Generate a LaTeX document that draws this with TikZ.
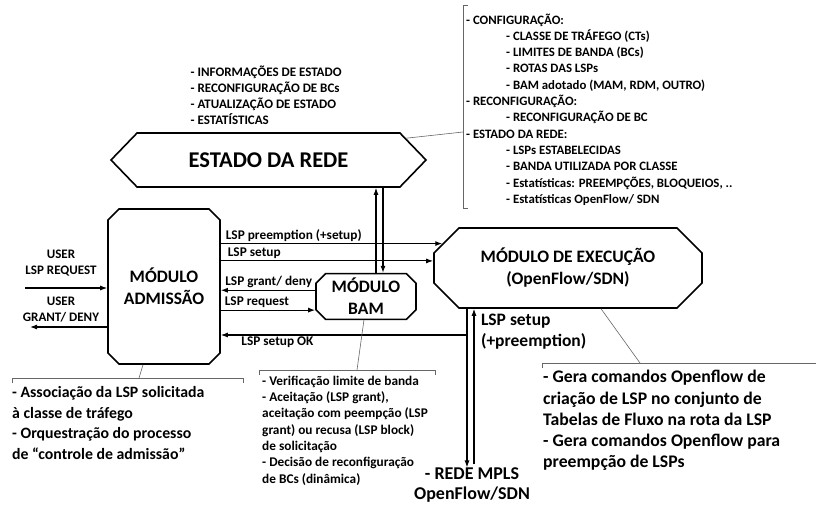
\documentclass[tikz,border=0pt]{standalone}
\usepackage{fontspec}
\setmainfont{Carlito}
\usetikzlibrary{shapes.misc,shapes.symbols,arrows.meta,positioning,calc}

\tikzset{
  bloco/.style={draw, line width=1.6pt, align=center, inner sep=0pt,
    font=\fontsize{17.5}{22}\selectfont\bfseries},
  seta/.style={-{Latex[length=7pt,width=5pt]}, line width=1.1pt},
  rotulo/.style={font=\fontsize{13.3}{15}\selectfont\bfseries, inner sep=1.5pt},
  lista/.style={align=left, inner sep=0pt, font=\fontsize{12.8}{16.3}\selectfont\bfseries},
  nota/.style={align=left, inner sep=0pt, font=\fontsize{15.8}{20.7}\selectfont\bfseries},
  guia/.style={draw=gray!80!black, line width=0.6pt},
}

\begin{document}
\begin{tikzpicture}[x=1pt,y=-1pt]
\useasboundingbox (0,0) rectangle (816,519);

% blocos
\node[bloco, signal, signal to=west and east, signal pointer angle=92,
  minimum width=315pt, minimum height=54pt,
  font=\fontsize{22.5}{26}\selectfont\bfseries] (estado) at (268.5,160) {ESTADO DA REDE};
\node[bloco, chamfered rectangle, chamfered rectangle xsep=5.5pt, chamfered rectangle ysep=5.5pt,
  minimum width=112pt, minimum height=155pt] (adm) at (164,286.5) {MÓDULO\\ADMISSÃO};
\node[bloco, chamfered rectangle, chamfered rectangle xsep=5pt, chamfered rectangle ysep=4.5pt,
  minimum width=100pt, minimum height=45pt] (bam) at (366,296.5) {MÓDULO\\BAM};
\node[bloco, chamfered rectangle, chamfered rectangle xsep=13pt, chamfered rectangle ysep=12pt,
  minimum width=268pt, minimum height=80pt] (exec) at (568,268) {MÓDULO DE EXECUÇÃO\\(OpenFlow/SDN)};
\node[nota, align=center, font=\fontsize{18}{20}\selectfont\bfseries] (rede) at (472,485)
  {- REDE MPLS\\OpenFlow/SDN};

% usuario
\node[rotulo, align=center, font=\fontsize{13}{16}\selectfont\bfseries] (userreq) at (61,263) {USER\\LSP REQUEST};
\node[rotulo, align=center, font=\fontsize{13}{16}\selectfont\bfseries] (usergd) at (61,310) {USER\\GRANT/ DENY};
\coordinate (uin) at (25,288);
\coordinate (uout) at (30,327);
\draw[seta] (uin) -- (uin -| adm.west);
\draw[seta] (uout -| adm.west) -- (uout);

% admissao <-> bam / execucao
\draw[seta] (adm.east |- exec.169) node[rotulo, above right, xshift=3pt] {LSP preemption (+setup)} -- (exec.169);
\draw[seta] (adm.east |- exec.177) node[rotulo, above right, xshift=5pt] {LSP setup} -- (exec.177);
\draw[seta] (bam.173) -- (bam.173 -| adm.east) node[rotulo, above right, xshift=2.5pt] {LSP grant/ deny};
\draw[seta] (adm.east |- bam.195) node[rotulo, above right, xshift=2pt] {LSP request} -- (bam.195);

% bam <-> estado
\coordinate (bamup) at ([xshift=10pt]bam.north);
\coordinate (bamdn) at ([xshift=17pt]bam.north);
\draw[seta] (bamup) -- (bamup |- estado.south);
\draw[seta] (bamdn |- estado.south) -- (bamdn);

% execucao <-> rede
\coordinate (desce) at ([xshift=-5pt]rede.north);
\coordinate (sobe) at ([xshift=2pt,yshift=3pt]rede.north);
\draw[seta] (desce |- exec.south) -- (desce);
\draw[seta] (sobe) -- (sobe |- exec.south)
  node[rotulo, below right, align=left, xshift=5pt, yshift=-3pt,
    font=\fontsize{17.5}{21}\selectfont\bfseries] {LSP setup\\(+preemption)};
\draw[seta] (desce |- 0,335) -- (adm.east |- 0,335) node[rotulo, below, pos=0.77] {LSP setup OK};

% estado da rede: listas
\node[lista, anchor=west, font=\fontsize{13}{16}\selectfont\bfseries] (info) at (190.5,95) {- INFORMAÇÕES DE ESTADO\\- RECONFIGURAÇÃO DE BCs\\- ATUALIZAÇÃO DE ESTADO\\- ESTATÍSTICAS};
\node[lista, anchor=west] (cfg) at (466,109.5) {- CONFIGURAÇÃO:\\
  \hspace*{40pt}- CLASSE DE TRÁFEGO (CTs)\\
  \hspace*{40pt}- LIMITES DE BANDA (BCs)\\
  \hspace*{40pt}- ROTAS DAS LSPs\\
  \hspace*{40pt}- BAM adotado (MAM, RDM, OUTRO)\\
  - RECONFIGURAÇÃO:\\
  \hspace*{40pt}- RECONFIGURAÇÃO DE BC\\
  - ESTADO DA REDE:\\
  \hspace*{40pt}- LSPs ESTABELECIDAS\\
  \hspace*{40pt}- BANDA UTILIZADA POR CLASSE\\
  \hspace*{40pt}- Estatísticas: PREEMPÇÕES, BLOQUEIOS, ..\\
  \hspace*{40pt}- Estatísticas OpenFlow/ SDN};
\coordinate (chave) at (463,132);
\draw[guia] (estado.9) -- (chave);
\draw[guia] (468,5) -- (463,5) -- (463,208) -- (468,208);

% notas
\coordinate (notaadm) at (139,378);
\draw[guia] (adm.255) -- (notaadm);
\draw[guia] (12,383) -- (12,378) -- (243,378) -- (243,383);
\node[nota, anchor=west] (txtadm) at (12,423) {- Associação da LSP solicitada\\à classe de tráfego\\- Orquestração do processo\\de “controle de admissão”};

\coordinate (notabam) at (357,370);
\draw[guia] (bam.265) -- (notabam);
\draw[guia] (259,375) -- (259,370) -- (435,370) -- (435,375);
\node[lista, anchor=west, font=\fontsize{13.3}{16.3}\selectfont\bfseries] (txtbam) at (262,430.5)
  {- Verificação limite de banda\\- Aceitação (LSP grant),\\aceitação com peempção (LSP\\grant) ou recusa (LSP block)\\de solicitação\\- Decisão de reconfiguração\\de BCs (dinâmica)};

\coordinate (notaexec) at (640,363);
\draw[guia] (exec.309) -- (notaexec);
\draw[guia] (542,368) -- (542,363) -- (816,363);
\node[nota, anchor=west, font=\fontsize{17.7}{21.2}\selectfont\bfseries] (txtexec) at (543,420.5) {- Gera comandos Openflow de\\criação de LSP no conjunto de\\Tabelas de Fluxo na rota da LSP\\- Gera comandos Openflow para\\preempção de LSPs};
\end{tikzpicture}
\end{document}
